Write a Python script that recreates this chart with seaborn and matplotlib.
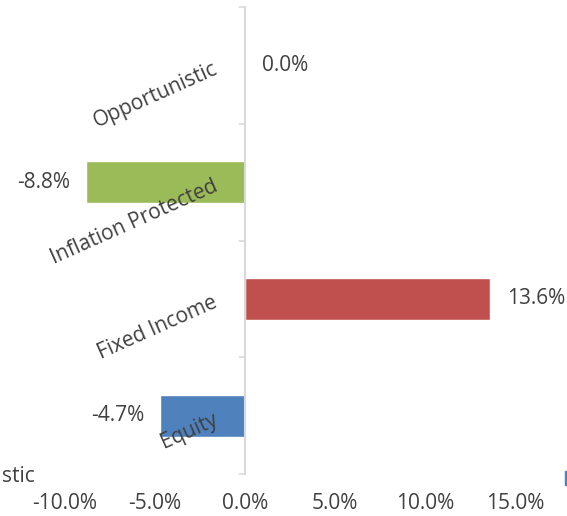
import matplotlib
matplotlib.use('Agg')
import matplotlib.pyplot as plt
import matplotlib.patches as mpatches
import seaborn as sns
import pandas as pd

categories = ['Opportunistic', 'Inflation Protected', 'Fixed Income', 'Equity']
values = [0.0, -8.8, 13.6, -4.7]
colors = ['#4F81BD', '#9BBB59', '#C0504D', '#4F81BD']
xticks = [-10, -5, 0, 5, 10, 15]

df = pd.DataFrame({'category': categories, 'value': values})

sns.set_style('white')
plt.rcParams['font.family'] = ['Open Sans', 'DejaVu Sans']
text_color = '#404040'
fs = 15

fig = plt.figure(figsize=(5.67, 5.16), dpi=100)
ax = fig.add_axes([0, 0.0814, 1, 0.9864 - 0.0814])

sns.barplot(data=df, x='value', y='category', hue='category', palette=colors,
            orient='h', width=0.36, legend=False, ax=ax, saturation=1)

ax.set_xlim(-245 / 18.05, 322 / 18.05)
ax.set_ylim(3.5, -0.5)
ax.set_xlabel('')
ax.set_ylabel('')

# only the vertical axis line at zero
for side in ['top', 'right', 'bottom']:
    ax.spines[side].set_visible(False)
ax.spines['left'].set_position(('data', 0))
ax.spines['left'].set_color('#D9D9D9')
ax.spines['left'].set_linewidth(1.5)

ax.set_yticks(range(len(categories)))
ax.set_yticklabels([])
ax.tick_params(axis='y', which='major', length=0)
ax.set_yticks([i - 0.5 for i in range(len(categories) + 1)], minor=True)
ax.tick_params(axis='y', which='minor', length=4.5, width=1.2, color='#D9D9D9', direction='out', left=True)

ax.set_xticks(xticks)
ax.set_xticklabels([f'{t:.1f}%' for t in xticks], fontsize=fs, color=text_color)
ax.tick_params(axis='x', length=0, pad=14)

# category labels, rotated like the original
for i, cat in enumerate(categories):
    ax.annotate(cat, xy=(0, i), xytext=(-26, -8), textcoords='offset pixels',
                rotation=24, rotation_mode='anchor', ha='right', va='baseline',
                fontsize=fs, color=text_color)

# value labels at the bar ends
for i, v in enumerate(values):
    if v >= 0:
        ax.annotate(f'{v:.1f}%', xy=(v, i), xytext=(17, 0), textcoords='offset pixels',
                    ha='left', va='center', fontsize=fs, color=text_color)
    else:
        ax.annotate(f'{v:.1f}%', xy=(v, i), xytext=(-16, 0), textcoords='offset pixels',
                    ha='right', va='center', fontsize=fs, color=text_color)

# clipped legend pieces at the bottom edge
fig.text(0.004, 1 - 477 / 516, 'stic', fontsize=fs, color=text_color, va='center', ha='left')
fig.patches.append(mpatches.Rectangle((565 / 567, 1 - 485 / 516), 2 / 567, 14 / 516,
                                      transform=fig.transFigure, color='#4F81BD'))

fig.savefig('out.png', dpi=100)
